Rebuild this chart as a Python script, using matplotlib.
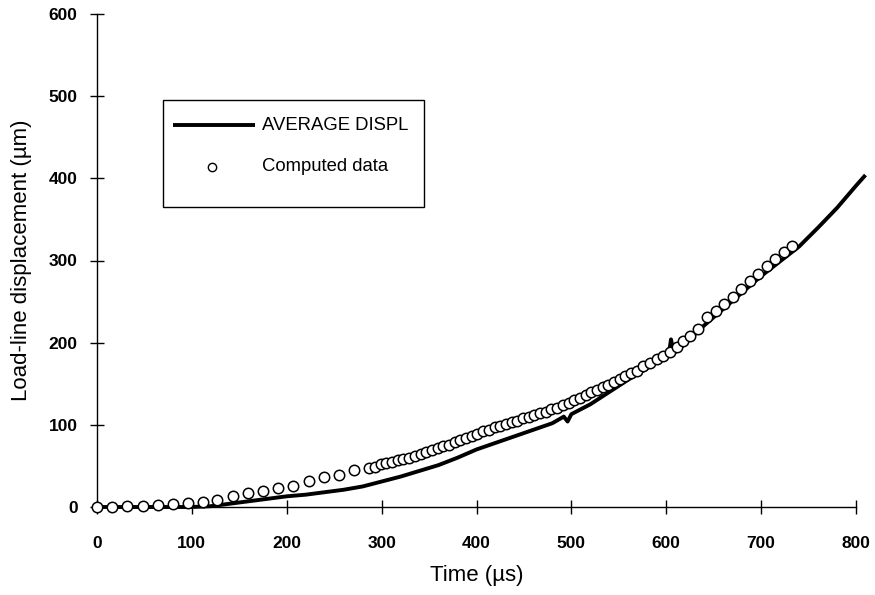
import matplotlib
matplotlib.use("Agg")
import matplotlib.pyplot as plt
from matplotlib.patches import Rectangle

plt.rcParams['font.family'] = ['Liberation Sans', 'DejaVu Sans']

# measured average displacement (solid line)
avg_t = [0, 60, 100, 120, 140, 160, 180, 200, 220, 240, 260, 280, 300, 320,
         340, 360, 380, 400, 420, 440, 460, 480, 492, 496, 500, 520, 540, 560,
         580, 600, 603, 605, 608, 620, 640, 660, 680, 700, 720, 740, 760, 780,
         800, 810]
avg_d = [0, 0, 0, 1, 4, 7, 10, 13, 15, 18, 21, 25, 31, 37,
         44, 51, 60, 70, 78, 86, 94, 102, 110, 104, 113, 125, 140, 155,
         169, 184, 188, 204, 187, 199, 221, 241, 261, 281, 299, 317, 340, 364,
         391, 404]

# computed data (open circles)
comp_t = [0, 16, 32, 48, 64, 80, 96, 112, 127, 143, 159, 175, 191, 207, 223,
          239, 255, 271,
          287, 293, 299, 305, 311, 317, 323, 329, 335, 341, 347, 353, 359,
          365, 371, 377, 383, 389, 395, 401, 407, 413, 419, 425, 431, 437,
          443, 449, 455, 461, 467, 473, 479, 485, 491, 497, 503, 509, 515,
          521, 527, 533, 539, 545, 551, 557, 563, 569, 576, 583, 590, 597,
          604, 611, 618, 625, 633, 643, 652, 661, 670, 679, 688, 697, 706,
          715, 724, 733]
comp_d = [0, 0, 1, 1, 3, 4, 5, 6.5, 9, 13, 17, 20, 23, 26, 32,
          36, 39, 45,
          47, 49, 52, 53, 55, 57, 58, 60, 62, 65, 67, 69, 72,
          74, 76, 79, 82, 84, 87, 89, 92, 94, 97, 99, 101, 103,
          105, 108, 110, 112, 114, 116, 119, 121, 124, 127, 130, 133, 136,
          140, 143, 146, 149, 152, 156, 159, 163, 166, 171, 175, 180, 184,
          189, 195, 202, 208, 217, 231, 239, 247, 256, 265, 275, 284, 293,
          302, 310, 318]

x_ticks = [0, 100, 200, 300, 400, 500, 600, 700, 800]
y_ticks = [0, 100, 200, 300, 400, 500, 600]


def main():
    fig = plt.figure(figsize=(8.75, 5.95), dpi=100)
    ax = fig.add_axes([97 / 875, 88 / 595, 759 / 875, 493 / 595])

    ax.plot(avg_t, avg_d, color='black', linewidth=2.8, solid_capstyle='butt',
            clip_on=False, zorder=2)
    ax.plot(comp_t, comp_d, linestyle='none', marker='o', markersize=7.5,
            markerfacecolor='white', markeredgecolor='black',
            markeredgewidth=1.1, clip_on=False, zorder=3)

    ax.set_xlim(0, 800)
    ax.set_ylim(0, 600)
    ax.set_xticks(x_ticks)
    ax.set_yticks(y_ticks)

    for s in ['top', 'right']:
        ax.spines[s].set_visible(False)
    for s in ['left', 'bottom']:
        ax.spines[s].set_linewidth(1.0)

    ax.tick_params(axis='both', direction='inout', length=10, width=1.0)
    ax.tick_params(axis='x', pad=16)
    ax.tick_params(axis='y', pad=9)
    for lab in ax.get_xticklabels() + ax.get_yticklabels():
        lab.set_fontweight('bold')
        lab.set_fontsize(12.5)

    ax.set_xlabel('Time (\u00b5s)', fontsize=16, labelpad=10)
    ax.set_ylabel('Load-line displacement (\u00b5m)', fontsize=16, labelpad=12)

    # legend box drawn by hand
    tr = ax.transAxes
    ax.add_patch(Rectangle((0.0870, 0.6085), 0.3438, 0.2171, transform=tr,
                           facecolor='white', edgecolor='black',
                           linewidth=1.0, zorder=4))
    ax.plot([0.1001, 0.2082], [0.7748, 0.7748], transform=tr, color='black',
            linewidth=2.8, solid_capstyle='butt', zorder=5)
    ax.text(0.2174, 0.7748, 'AVERAGE DISPL', transform=tr, fontsize=13.3,
            va='center', ha='left', zorder=5)
    ax.plot([0.1515], [0.6897], transform=tr, marker='o', markersize=6,
            markerfacecolor='white', markeredgecolor='black',
            markeredgewidth=1.0, zorder=5)
    ax.text(0.2174, 0.6897, 'Computed data', transform=tr, fontsize=13.3,
            va='center', ha='left', zorder=5)

    fig.savefig('out.png', dpi=100)


if __name__ == "__main__":
    main()
